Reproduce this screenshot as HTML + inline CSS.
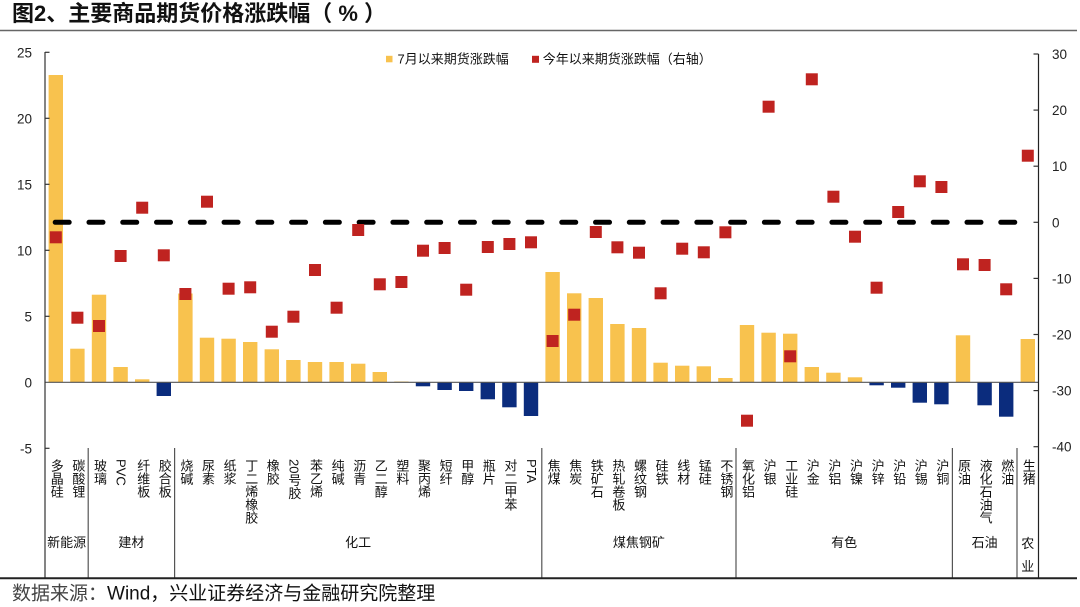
<!DOCTYPE html>
<html><head><meta charset="utf-8">
<style>
html,body{margin:0;padding:0;background:#fff;}
#c{position:relative;width:1080px;height:607px;overflow:hidden;background:#fff;font-family:"Liberation Sans","Noto Sans CJK SC",sans-serif;}
svg{position:absolute;left:0;top:0;}
.cl{position:absolute;top:459px;width:14px;margin-left:-7px;writing-mode:vertical-rl;text-orientation:mixed;font-size:13px;line-height:14px;white-space:nowrap;color:#111;font-family:"Liberation Sans","Noto Sans CJK SC",sans-serif;}
.gl{position:absolute;top:535px;font-size:13px;line-height:16px;white-space:nowrap;color:#111;transform:translateX(-50%);}
</style></head><body>
<div id="c">
<svg width="1080" height="607" viewBox="0 0 1080 607" xmlns="http://www.w3.org/2000/svg" font-family="Liberation Sans, Noto Sans CJK SC, sans-serif">
<text x="12" y="21" font-size="22" font-weight="bold" fill="#111" xml:space="preserve">图2、主要商品期货价格涨跌幅（ % ）</text>
<line x1="0" y1="30.5" x2="1077" y2="30.5" stroke="#666" stroke-width="1.5"/>

<!-- bars -->
<g fill="#F8C24E">
<rect x="48.6" y="75" width="14.4" height="307.3"/>
<rect x="70.2" y="348.7" width="14.4" height="33.6"/>
<rect x="91.8" y="294.7" width="14.4" height="87.6"/>
<rect x="113.4" y="367" width="14.4" height="15.3"/>
<rect x="135.0" y="379.3" width="14.4" height="3"/>
<rect x="178.2" y="293.5" width="14.4" height="88.8"/>
<rect x="199.8" y="337.7" width="14.4" height="44.6"/>
<rect x="221.4" y="338.7" width="14.4" height="43.6"/>
<rect x="243.0" y="342" width="14.4" height="40.3"/>
<rect x="264.6" y="349.3" width="14.4" height="33"/>
<rect x="286.2" y="360" width="14.4" height="22.3"/>
<rect x="307.8" y="362" width="14.4" height="20.3"/>
<rect x="329.4" y="362" width="14.4" height="20.3"/>
<rect x="351.0" y="363.7" width="14.4" height="18.6"/>
<rect x="372.6" y="372" width="14.4" height="10.3"/>
<rect x="394.2" y="381.5" width="14.4" height="0.8"/>
<rect x="545.4" y="272" width="14.4" height="110.3"/>
<rect x="567.0" y="293.3" width="14.4" height="89"/>
<rect x="588.6" y="298" width="14.4" height="84.3"/>
<rect x="610.2" y="324" width="14.4" height="58.3"/>
<rect x="631.8" y="328" width="14.4" height="54.3"/>
<rect x="653.4" y="362.7" width="14.4" height="19.6"/>
<rect x="675.0" y="365.7" width="14.4" height="16.6"/>
<rect x="696.6" y="366.3" width="14.4" height="16"/>
<rect x="718.2" y="378" width="14.4" height="4.3"/>
<rect x="739.8" y="325" width="14.4" height="57.3"/>
<rect x="761.4" y="332.7" width="14.4" height="49.6"/>
<rect x="783.0" y="333.7" width="14.4" height="48.6"/>
<rect x="804.6" y="367" width="14.4" height="15.3"/>
<rect x="826.2" y="372.7" width="14.4" height="9.6"/>
<rect x="847.8" y="377.3" width="14.4" height="5"/>
<rect x="955.8" y="335.3" width="14.4" height="47"/>
<rect x="1020.6" y="339" width="14.4" height="43.3"/>
</g>
<g fill="#0B2C7D">
<rect x="156.6" y="382.3" width="14.4" height="13.7"/>
<rect x="415.8" y="382.3" width="14.4" height="4"/>
<rect x="437.4" y="382.3" width="14.4" height="7.7"/>
<rect x="459.0" y="382.3" width="14.4" height="8.7"/>
<rect x="480.6" y="382.3" width="14.4" height="17"/>
<rect x="502.2" y="382.3" width="14.4" height="25"/>
<rect x="523.8" y="382.3" width="14.4" height="33.7"/>
<rect x="869.4" y="382.3" width="14.4" height="3"/>
<rect x="891.0" y="382.3" width="14.4" height="5.4"/>
<rect x="912.6" y="382.3" width="14.4" height="20.4"/>
<rect x="934.2" y="382.3" width="14.4" height="22"/>
<rect x="977.4" y="382.3" width="14.4" height="23"/>
<rect x="999.0" y="382.3" width="14.4" height="34.4"/>
</g>

<!-- zero line -->
<line x1="45" y1="382.3" x2="1038.5" y2="382.3" stroke="#555" stroke-width="1.2"/>

<!-- axes -->
<line x1="45" y1="52" x2="45" y2="578" stroke="#333" stroke-width="1.2"/>
<line x1="1038.5" y1="54" x2="1038.5" y2="578" stroke="#222" stroke-width="1.2"/>
<g stroke="#333" stroke-width="1.2">
<line x1="45" y1="52.3" x2="49.5" y2="52.3"/>
<line x1="45" y1="118.3" x2="49.5" y2="118.3"/>
<line x1="45" y1="184.3" x2="49.5" y2="184.3"/>
<line x1="45" y1="250.3" x2="49.5" y2="250.3"/>
<line x1="45" y1="316.3" x2="49.5" y2="316.3"/>
<line x1="45" y1="448.3" x2="49.5" y2="448.3"/>
<line x1="1033.5" y1="54" x2="1038.5" y2="54"/>
<line x1="1033.5" y1="110.1" x2="1038.5" y2="110.1"/>
<line x1="1033.5" y1="166.2" x2="1038.5" y2="166.2"/>
<line x1="1033.5" y1="222.3" x2="1038.5" y2="222.3"/>
<line x1="1033.5" y1="278.4" x2="1038.5" y2="278.4"/>
<line x1="1033.5" y1="334.5" x2="1038.5" y2="334.5"/>
<line x1="1033.5" y1="390.6" x2="1038.5" y2="390.6"/>
<line x1="1033.5" y1="446.7" x2="1038.5" y2="446.7"/>
</g>
<g font-size="13.5" fill="#222" text-anchor="end">
<text x="32" y="57.3">25</text>
<text x="32" y="123.3">20</text>
<text x="32" y="189.3">15</text>
<text x="32" y="255.3">10</text>
<text x="32" y="321.3">5</text>
<text x="32" y="387.3">0</text>
<text x="32" y="453.3">-5</text>
</g>
<g font-size="13.5" fill="#222">
<text x="1052" y="59">30</text>
<text x="1052" y="115.1">20</text>
<text x="1052" y="171.2">10</text>
<text x="1052" y="227.3">0</text>
<text x="1052" y="283.4">-10</text>
<text x="1052" y="339.5">-20</text>
<text x="1052" y="395.6">-30</text>
<text x="1052" y="451.7">-40</text>
</g>

<!-- dashed zero line for right axis -->
<path d="M55.2 222.3 H1028" stroke="#000" stroke-width="5" stroke-linecap="round" stroke-dasharray="14 19.77" fill="none"/>

<!-- markers -->
<g fill="#BF2320">
<rect x="49.8" y="231.3" width="12" height="12"/>
<rect x="71.4" y="311.7" width="12" height="12"/>
<rect x="93.0" y="320" width="12" height="12"/>
<rect x="114.6" y="250" width="12" height="12"/>
<rect x="136.2" y="201.7" width="12" height="12"/>
<rect x="157.8" y="249.3" width="12" height="12"/>
<rect x="179.4" y="288" width="12" height="12"/>
<rect x="201.0" y="195.7" width="12" height="12"/>
<rect x="222.6" y="282.7" width="12" height="12"/>
<rect x="244.2" y="281.3" width="12" height="12"/>
<rect x="265.8" y="325.7" width="12" height="12"/>
<rect x="287.4" y="310.7" width="12" height="12"/>
<rect x="309.0" y="264" width="12" height="12"/>
<rect x="330.6" y="301.7" width="12" height="12"/>
<rect x="352.2" y="224" width="12" height="12"/>
<rect x="373.8" y="278.3" width="12" height="12"/>
<rect x="395.4" y="276" width="12" height="12"/>
<rect x="417.0" y="244.7" width="12" height="12"/>
<rect x="438.6" y="242" width="12" height="12"/>
<rect x="460.2" y="283.7" width="12" height="12"/>
<rect x="481.8" y="241" width="12" height="12"/>
<rect x="503.4" y="238" width="12" height="12"/>
<rect x="525.0" y="236.3" width="12" height="12"/>
<rect x="546.6" y="335" width="12" height="12"/>
<rect x="568.2" y="308.7" width="12" height="12"/>
<rect x="589.8" y="226" width="12" height="12"/>
<rect x="611.4" y="241.3" width="12" height="12"/>
<rect x="633.0" y="246.7" width="12" height="12"/>
<rect x="654.6" y="287.3" width="12" height="12"/>
<rect x="676.2" y="242.7" width="12" height="12"/>
<rect x="697.8" y="246.3" width="12" height="12"/>
<rect x="719.4" y="226.3" width="12" height="12"/>
<rect x="741.0" y="414.7" width="12" height="12"/>
<rect x="762.6" y="100.7" width="12" height="12"/>
<rect x="784.2" y="350.3" width="12" height="12"/>
<rect x="805.8" y="73.3" width="12" height="12"/>
<rect x="827.4" y="190.7" width="12" height="12"/>
<rect x="849.0" y="230.7" width="12" height="12"/>
<rect x="870.6" y="281.7" width="12" height="12"/>
<rect x="892.2" y="206" width="12" height="12"/>
<rect x="913.8" y="175.3" width="12" height="12"/>
<rect x="935.4" y="181" width="12" height="12"/>
<rect x="957.0" y="258.3" width="12" height="12"/>
<rect x="978.6" y="259" width="12" height="12"/>
<rect x="1000.2" y="283.3" width="12" height="12"/>
<rect x="1021.8" y="149.7" width="12" height="12"/>
</g>

<!-- legend -->
<rect x="386" y="55.8" width="6.5" height="6.5" fill="#F8C24E"/>
<text x="397.5" y="63.6" font-size="13" fill="#111">7月以来期货涨跌幅</text>
<rect x="532" y="55.8" width="7" height="7" fill="#BF2320"/>
<text x="542.7" y="63.6" font-size="13" fill="#111">今年以来期货涨跌幅（右轴）</text>

<!-- group separators -->
<g stroke="#555" stroke-width="1.2">
<line x1="88.2" y1="448" x2="88.2" y2="578"/>
<line x1="174.6" y1="448" x2="174.6" y2="578"/>
<line x1="541.8" y1="448" x2="541.8" y2="578"/>
<line x1="736" y1="448" x2="736" y2="578"/>
<line x1="952.4" y1="448" x2="952.4" y2="578"/>
<line x1="1017" y1="448" x2="1017" y2="578"/>
</g>
<line x1="0" y1="578.3" x2="1077" y2="578.3" stroke="#222" stroke-width="2"/>

<text x="12" y="599.5" font-size="19" fill="#333"><tspan fill="#444">数据来源：</tspan><tspan fill="#111">Wind，兴业证券经济与金融研究院整理</tspan></text>
</svg>

<div class="cl" style="left:55.8px">多晶硅</div>
<div class="cl" style="left:77.4px">碳酸锂</div>
<div class="cl" style="left:99.0px">玻璃</div>
<div class="cl" style="left:120.6px">PVC</div>
<div class="cl" style="left:142.2px">纤维板</div>
<div class="cl" style="left:163.8px">胶合板</div>
<div class="cl" style="left:185.4px">烧碱</div>
<div class="cl" style="left:207.0px">尿素</div>
<div class="cl" style="left:228.6px">纸浆</div>
<div class="cl" style="left:250.2px">丁二烯橡胶</div>
<div class="cl" style="left:271.8px">橡胶</div>
<div class="cl" style="left:293.4px">20号胶</div>
<div class="cl" style="left:315.0px">苯乙烯</div>
<div class="cl" style="left:336.6px">纯碱</div>
<div class="cl" style="left:358.2px">沥青</div>
<div class="cl" style="left:379.8px">乙二醇</div>
<div class="cl" style="left:401.4px">塑料</div>
<div class="cl" style="left:423.0px">聚丙烯</div>
<div class="cl" style="left:444.6px">短纤</div>
<div class="cl" style="left:466.2px">甲醇</div>
<div class="cl" style="left:487.8px">瓶片</div>
<div class="cl" style="left:509.4px">对二甲苯</div>
<div class="cl" style="left:531.0px">PTA</div>
<div class="cl" style="left:552.6px">焦煤</div>
<div class="cl" style="left:574.2px">焦炭</div>
<div class="cl" style="left:595.8px">铁矿石</div>
<div class="cl" style="left:617.4px">热轧卷板</div>
<div class="cl" style="left:639.0px">螺纹钢</div>
<div class="cl" style="left:660.6px">硅铁</div>
<div class="cl" style="left:682.2px">线材</div>
<div class="cl" style="left:703.8px">锰硅</div>
<div class="cl" style="left:725.4px">不锈钢</div>
<div class="cl" style="left:747.0px">氧化铝</div>
<div class="cl" style="left:768.6px">沪银</div>
<div class="cl" style="left:790.2px">工业硅</div>
<div class="cl" style="left:811.8px">沪金</div>
<div class="cl" style="left:833.4px">沪铝</div>
<div class="cl" style="left:855.0px">沪镍</div>
<div class="cl" style="left:876.6px">沪锌</div>
<div class="cl" style="left:898.2px">沪铅</div>
<div class="cl" style="left:919.8px">沪锡</div>
<div class="cl" style="left:941.4px">沪铜</div>
<div class="cl" style="left:963.0px">原油</div>
<div class="cl" style="left:984.6px">液化石油气</div>
<div class="cl" style="left:1006.2px">燃油</div>
<div class="cl" style="left:1027.8px">生猪</div>

<div class="gl" style="left:66.6px">新能源</div>
<div class="gl" style="left:131.4px">建材</div>
<div class="gl" style="left:358.2px">化工</div>
<div class="gl" style="left:638.9px">煤焦钢矿</div>
<div class="gl" style="left:844.2px">有色</div>
<div class="gl" style="left:984.7px">石油</div>
<div class="gl" style="left:1027.8px;top:531.5px;line-height:23px;text-align:center;">农<br>业</div>
</div>
</body></html>
